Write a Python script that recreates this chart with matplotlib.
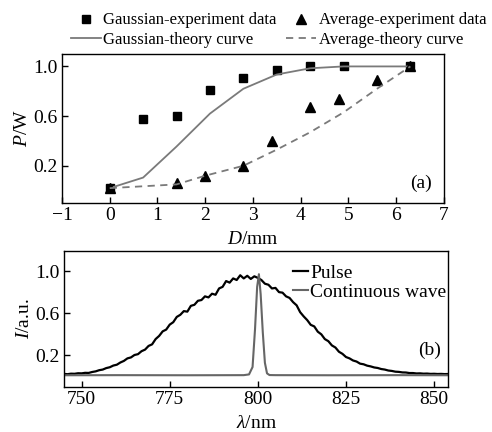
import numpy as np
import matplotlib
matplotlib.use("Agg")
import matplotlib.pyplot as plt

plt.rcParams["font.family"] = ["Liberation Serif", "DejaVu Serif"]
plt.rcParams["mathtext.fontset"] = "custom"
plt.rcParams["mathtext.rm"] = "Liberation Serif"
plt.rcParams["mathtext.it"] = "Liberation Serif:italic"

# panel (a): output power vs aperture diameter
d_gauss_exp = [0, 0.7, 1.4, 2.1, 2.8, 3.5, 4.2, 4.9, 6.3]
p_gauss_exp = [0.02, 0.58, 0.60, 0.81, 0.91, 0.975, 1.0, 1.0, 1.0]
d_avg_exp = [0, 1.4, 2.0, 2.8, 3.4, 4.2, 4.8, 5.6, 6.3]
p_avg_exp = [0.02, 0.065, 0.12, 0.20, 0.40, 0.67, 0.74, 0.89, 1.0]
d_gauss_th = [0, 0.7, 1.4, 2.1, 2.8, 3.5, 4.2, 4.9, 6.3]
p_gauss_th = [0.02, 0.105, 0.355, 0.62, 0.82, 0.935, 0.985, 1.0, 1.0]
d_avg_th = [0, 1.4, 2.0, 2.8, 3.5, 4.2, 4.9, 5.6, 6.3]
p_avg_th = [0.02, 0.05, 0.12, 0.20, 0.33, 0.47, 0.63, 0.82, 1.0]

# panel (b): spectra
wl_pulse = list(range(745, 855))
i_pulse = [
    0.025, 0.022, 0.027, 0.026, 0.031, 0.030, 0.035, 0.034, 0.043, 0.049,
    0.060, 0.066, 0.080, 0.088, 0.104, 0.112, 0.133, 0.148, 0.172, 0.181,
    0.204, 0.212, 0.240, 0.255, 0.290, 0.305, 0.355, 0.385, 0.428, 0.445,
    0.492, 0.515, 0.565, 0.585, 0.620, 0.615, 0.670, 0.680, 0.718, 0.725,
    0.760, 0.750, 0.785, 0.775, 0.835, 0.850, 0.905, 0.890, 0.930, 0.915,
    0.960, 0.930, 0.955, 0.925, 0.950, 0.935, 0.915, 0.880, 0.870, 0.835,
    0.840, 0.800, 0.795, 0.760, 0.745, 0.705, 0.675, 0.610, 0.570, 0.535,
    0.490, 0.475, 0.425, 0.400, 0.355, 0.335, 0.295, 0.275, 0.235, 0.215,
    0.185, 0.172, 0.152, 0.142, 0.122, 0.116, 0.103, 0.096, 0.086, 0.081,
    0.071, 0.066, 0.057, 0.053, 0.046, 0.044, 0.039, 0.038, 0.033, 0.033,
    0.029, 0.030, 0.027, 0.028, 0.025, 0.026, 0.024, 0.025, 0.023, 0.024,
]
wl_cw = [745, 760, 780, 796, 797.5, 798.5, 799.2, 799.8, 800.3, 800.8,
         801.4, 802.0, 802.6, 803.3, 805, 820, 840, 854]
i_cw = [0.012, 0.013, 0.012, 0.013, 0.02, 0.09, 0.45, 0.85, 0.97, 0.78,
        0.42, 0.13, 0.03, 0.014, 0.013, 0.012, 0.013, 0.012]

fig = plt.figure(figsize=(4.92, 4.32), dpi=100)
ax1 = fig.add_axes([0.126, 0.530, 0.776, 0.345])
ax2 = fig.add_axes([0.130, 0.104, 0.781, 0.315])

gray = "#7a7a7a"
h1, = ax1.plot(d_gauss_exp, p_gauss_exp, "s", color="black", ms=5.5, ls="none")
h2, = ax1.plot(d_gauss_th, p_gauss_th, "-", color=gray, lw=1.3)
h3, = ax1.plot(d_avg_exp, p_avg_exp, "^", color="black", ms=7, ls="none")
h4, = ax1.plot(d_avg_th, p_avg_th, "--", color=gray, lw=1.3, dashes=(4, 3))

ax1.set_xlim(-1, 7)
ax1.set_ylim(-0.1, 1.1)
ax1.set_xticks(range(-1, 8))
ax1.set_xticklabels(["\u22121"] + [str(v) for v in range(0, 8)])
ax1.set_yticks([0.2, 0.6, 1.0])
ax1.set_xlabel(r"$\mathit{D}$/mm", fontsize=14, labelpad=5)
ax1.set_ylabel(r"$\mathit{P}$/W", fontsize=14, labelpad=2)
ax1.text(0.97, 0.13, "(a)", transform=ax1.transAxes, ha="right", va="center", fontsize=14)

fig.legend([h1, h2, h3, h4],
           ["Gaussian-experiment data", "Gaussian-theory curve",
            "Average-experiment data", "Average-theory curve"],
           ncol=2, loc="upper left", bbox_to_anchor=(0.118, 1.0), frameon=False,
           fontsize=12, handlelength=1.8, handletextpad=0.15,
           columnspacing=0.6, labelspacing=0.2, borderpad=0.25)

ax2.plot(wl_pulse, i_pulse, color="black", lw=1.6, label="Pulse")
ax2.plot(wl_cw, i_cw, color="#666666", lw=1.5, label="Continuous wave")
ax2.set_xlim(745, 854)
ax2.set_ylim(-0.1, 1.19)
ax2.set_xticks([750, 775, 800, 825, 850])
ax2.set_yticks([0.2, 0.6, 1.0])
ax2.set_xlabel(r"$\mathit{\lambda}$/nm", fontsize=14, labelpad=5)
ax2.set_ylabel(r"$\mathit{I}$/a.u.", fontsize=14, labelpad=2)
ax2.text(0.98, 0.27, "(b)", transform=ax2.transAxes, ha="right", va="center", fontsize=14)
ax2.legend(loc="upper right", bbox_to_anchor=(1.03, 1.0), frameon=False, fontsize=14,
           handlelength=0.8, handletextpad=0.1, labelspacing=0.05, borderpad=0.2)

for ax in (ax1, ax2):
    ax.tick_params(direction="in", length=4, width=1, labelsize=14, pad=3,
                   top=False, right=False)
    for s in ax.spines.values():
        s.set_linewidth(1.0)

fig.savefig("out.png", dpi=100)
